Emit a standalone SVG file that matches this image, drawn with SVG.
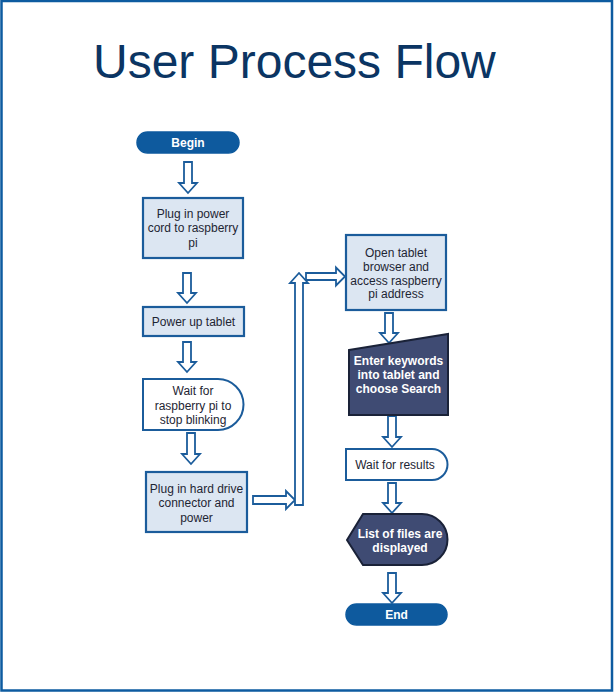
<svg xmlns="http://www.w3.org/2000/svg" width="614" height="693" viewBox="0 0 614 693">
<style>
.frame{fill:#ffffff;stroke:#0d5ba0;stroke-width:2.5}
.title{font-family:"Liberation Sans",Arial,sans-serif;font-size:48px;fill:#0b3563}
.term{fill:#0e5a9e;stroke:#0e5a9e;stroke-width:1.5}
.proc{fill:#dce6f2;stroke:#1b5c9b;stroke-width:2.2}
.delay{fill:#ffffff;stroke:#1b5c9b;stroke-width:2}
.dark{fill:#3f4b73;stroke:#1a2238;stroke-width:2}
.t{font-family:"Liberation Sans",Arial,sans-serif;font-size:12px;fill:#1e2533;text-anchor:middle}
.tw{font-family:"Liberation Sans",Arial,sans-serif;font-size:12px;font-weight:bold;fill:#ffffff;text-anchor:middle}
.arr{fill:#ffffff;stroke:#1b5c9b;stroke-width:1.8;stroke-linejoin:miter}
</style>
<rect class="frame" x="1.5" y="1" width="610.5" height="689.5"/>
<text class="title" x="93" y="78">User Process Flow</text>

<g id="connectors">
<path class="arr" d="M184,162 H192 V183 H197 L188,193 L179,183 H184 Z"/>
<path class="arr" d="M183,273 H191 V293 H196 L187,303 L178,293 H183 Z"/>
<path class="arr" d="M183,342 H191 V362 H196 L187,372 L178,362 H183 Z"/>
<path class="arr" d="M187,433 H195 V454 H200 L191,464 L182,454 H187 Z"/>
<path class="arr" d="M253,496 H286 V491 L295,500 L286,509 V504 H253 Z"/>
<path class="arr" d="M295,505 V283 H290 L299,273 L308,283 H303 V505 Z"/>
<path class="arr" d="M306,273 H336 V267.5 L345,276.5 L336,285.5 V280 H306 Z"/>
<path class="arr" d="M385,313 H393 V333 H398 L389,343 L380,333 H385 Z"/>
<path class="arr" d="M388,416 H396 V437 H401 L392,447 L383,437 H388 Z"/>
<path class="arr" d="M388,483 H396 V503 H401 L392,513 L383,503 H388 Z"/>
<path class="arr" d="M388,573 H396 V593 H401 L392,603 L383,593 H388 Z"/>
</g>

<g id="begin">
<rect class="term" x="137" y="132" width="102" height="21" rx="10.5"/>
<text class="tw" x="188" y="146.5">Begin</text>
</g>

<g id="plug-power">
<rect class="proc" x="143" y="198" width="100" height="60"/>
<text class="t" x="193" y="217.5">Plug in power</text>
<text class="t" x="193" y="232">cord to raspberry</text>
<text class="t" x="193" y="246.5">pi</text>
</g>

<g id="power-tablet">
<rect class="proc" x="143" y="307" width="101" height="29"/>
<text class="t" x="193.5" y="325.5">Power up tablet</text>
</g>

<g id="wait-blink">
<path class="delay" d="M143,379 H218 A25.5,25.5 0 0 1 218,430 H143 Z"/>
<text class="t" x="193" y="395">Wait for</text>
<text class="t" x="193" y="409.5">raspberry pi to</text>
<text class="t" x="193" y="424">stop blinking</text>
</g>

<g id="plug-drive">
<rect class="proc" x="146" y="472" width="101" height="60"/>
<text class="t" x="196.5" y="492.5">Plug in hard drive</text>
<text class="t" x="196.5" y="507">connector and</text>
<text class="t" x="196.5" y="521.5">power</text>
</g>

<g id="open-browser">
<rect class="proc" x="346" y="235" width="100" height="75"/>
<text class="t" x="396" y="257">Open tablet</text>
<text class="t" x="396" y="270.5">browser and</text>
<text class="t" x="396" y="284.5">access raspberry</text>
<text class="t" x="396" y="298">pi address</text>
</g>

<g id="enter-keywords">
<path class="dark" d="M349,350 L448,334 V415 H349 Z"/>
<text class="tw" x="398.5" y="365">Enter keywords</text>
<text class="tw" x="398.5" y="379">into tablet and</text>
<text class="tw" x="398.5" y="393">choose Search</text>
</g>

<g id="wait-results">
<path class="delay" d="M346,449 H432 A15.5,15.5 0 0 1 432,480 H346 Z"/>
<text class="t" x="395" y="468.5">Wait for results</text>
</g>

<g id="list-files">
<path class="dark" d="M347,540 L363,514 H422 A25.5,25.5 0 0 1 422,565 H363 Z"/>
<text class="tw" x="400" y="537.5">List of files are</text>
<text class="tw" x="400" y="551.5">displayed</text>
</g>

<g id="end">
<rect class="term" x="346" y="604" width="101" height="21" rx="10.5"/>
<text class="tw" x="396.5" y="618.5">End</text>
</g>
</svg>
